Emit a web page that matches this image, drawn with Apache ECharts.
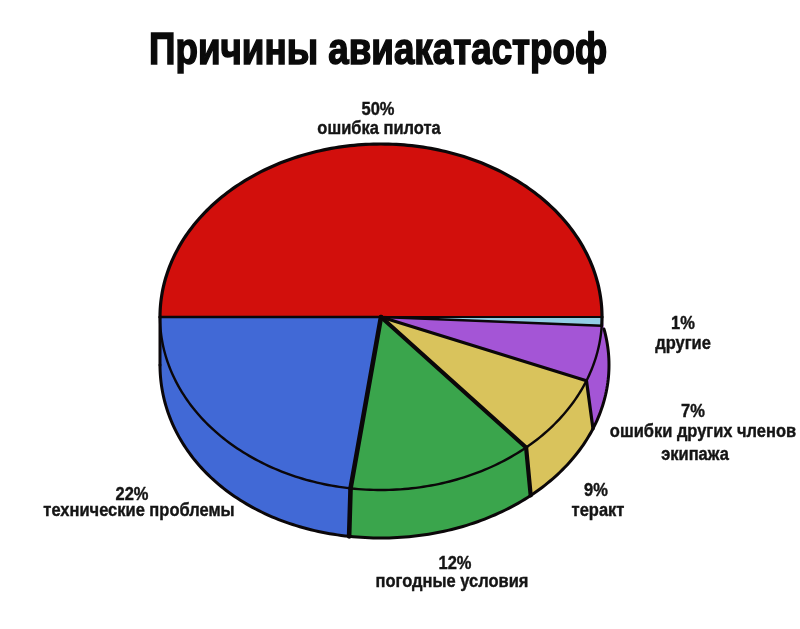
<!DOCTYPE html>
<html><head><meta charset="utf-8">
<style>html,body{margin:0;padding:0;background:#fff}#c{width:800px;height:629px}</style>
<script src="https://cdn.jsdelivr.net/npm/echarts@6/dist/echarts.min.js"></script>
</head><body><div id="c"></div>
<script>
const chartTitle = 'Причины авиакатастроф';
const categories = ['ошибка пилота','технические проблемы','погодные условия','теракт','ошибки других членов\nэкипажа','другие'];
// Printed labels (they add up to 101 in the source)
const labelValues = [50,22,12,9,7,1];
// Slice sizes as drawn in the picture, in percent of the full turn
const drawnShares = [50,22.8,13.6,7.6,5.2,0.8];
const colors = ['#d20f0c','#4169d6','#3aa54c','#d9c35c','#a455d6','#93cfe6'];
// Centre of each text line: percent line first, then the name lines
const labelLines = [
  [[378,110],[379,129]],
  [[132,495],[139,511]],
  [[455,564],[452,582]],
  [[596,491],[598,511]],
  [[693,412],[703,432],[695,455]],
  [[683,324],[683,344]]
];
const boundaryWidths = [2.6,4.6,4.2,3.2,2.4,2.2];
const CX=381, CY=317, RX=221, RY=173, DEPTH=48, WALL_END=372, INK='#0b0709';
const FONT='"Liberation Sans",sans-serif';
const rad=d=>d*Math.PI/180;
// The lower rim is not quite a copy of the upper one: it drifts sideways a little
const drift=c=>c<0?12*c*(1+c):7*c;
const pt=(t,dy)=>{const c=Math.cos(rad(t));return [CX+RX*c+(dy?drift(c):0),CY+dy-RY*Math.sin(rad(t))];};
function arc(a,b,dy){const n=Math.max(2,Math.ceil(Math.abs(b-a)));const o=[];for(let i=0;i<=n;i++)o.push(pt(a+(b-a)*i/n,dy));return o;}
const ranges=[];let acc=0;drawnShares.forEach(s=>{const a=acc;acc+=s*3.6;ranges.push([a,acc]);});
const last=ranges.length-1;
// The last sliver has no wall of its own: the wall before it runs on to the rim
const wallRange=i=>{
  if(i===last||ranges[i][1]<=180) return null;
  return [Math.max(180,ranges[i][0]), i===last-1?WALL_END:ranges[i][1]];
};
const data=drawnShares.map((s,i)=>({value:[s,i]}));
const line=(points,w)=>({type:'polyline',shape:{points},style:{fill:null,stroke:INK,lineWidth:w,lineCap:'round',lineJoin:'round'}});
function renderWall(params,api){
  const i=api.value(1);const r=wallRange(i);
  if(!r) return {type:'group',children:[]};
  const pts=arc(r[0],r[1],0).concat(arc(r[1],r[0],DEPTH));
  return {type:'polygon',shape:{points:pts},style:{fill:colors[i]}};
}
function renderTop(params,api){
  const i=api.value(1);const [a,b]=ranges[i];
  const pts=[[CX,CY]].concat(arc(a,b,0));
  return {type:'polygon',shape:{points:pts},style:{fill:colors[i]}};
}
function renderEdges(params,api){
  const i=api.value(1);const [a,b]=ranges[i];const r=wallRange(i);
  const ch=[line(arc(a,b,0),a>=180&&a<340?2.4:3.2),line([[CX,CY],pt(b,0)],boundaryWidths[i])];
  if(r){
    ch.push(line(arc(r[0],r[1],DEPTH),3));
    if(i<last-1) ch.push(line([pt(b,0),pt(b,DEPTH)],boundaryWidths[i]));
    if(r[0]===180) ch.push(line([pt(180,0),pt(180,DEPTH)],3));
  }
  return {type:'group',children:ch};
}
const chart=echarts.init(document.getElementById('c'),null,{renderer:'canvas'});
const texts=[{type:'text',x:149,y:52,scaleX:0.817,style:{text:chartTitle,font:'bold 45px '+FONT,fill:'#0a0a0a',stroke:'#0a0a0a',lineWidth:1.6,align:'left',verticalAlign:'middle'}}];
categories.forEach((c,i)=>{
  const lines=[labelValues[i]+'%'].concat(c.split('\n'));
  lines.forEach((t,j)=>{
    const [x,y]=labelLines[i][j];
    texts.push({type:'text',x,y,scaleX:0.915,style:{text:t,font:'bold 18px '+FONT,fill:'#141414',stroke:'#141414',lineWidth:0.4,align:'center',verticalAlign:'middle'}});
  });
});
chart.setOption({animation:false,backgroundColor:'#fff',
  graphic:{elements:texts},
  series:[
   {type:'custom',coordinateSystem:'none',renderItem:renderWall,data,silent:true,z:1},
   {type:'custom',coordinateSystem:'none',renderItem:renderTop,data,silent:true,z:2},
   {type:'custom',coordinateSystem:'none',renderItem:renderEdges,data,silent:true,z:3}
  ]});
</script></body></html>
